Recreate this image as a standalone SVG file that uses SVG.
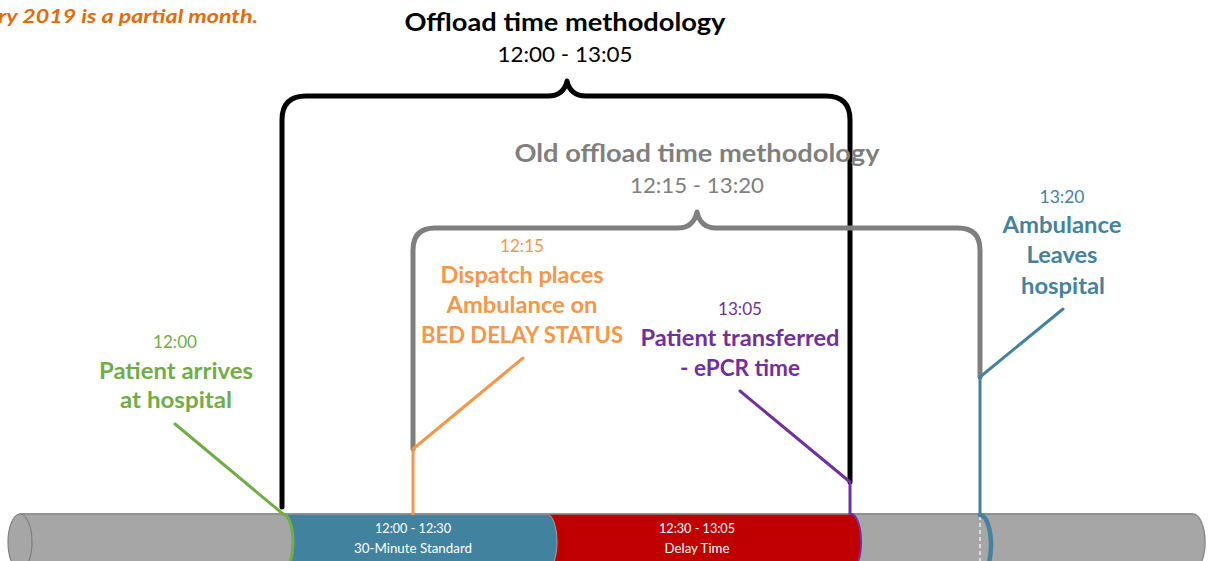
<svg xmlns="http://www.w3.org/2000/svg" width="1209" height="561" viewBox="0 0 1209 561">
<style>
text{font-family:Lato,"Open Sans","Liberation Sans",sans-serif;text-anchor:middle}
.t{font-size:25px;font-weight:bold}
.st{font-size:21px}
.sm{font-size:18px}
.lb{font-size:23px;font-weight:bold}
.bar{font-size:13px;fill:#ffffff}
.green{fill:#70ad47}.orange{fill:#f79646}.purple{fill:#7030a0}.teal{fill:#44829e}.gray{fill:#7f7f7f}
.brace{fill:none;stroke-width:5;stroke-linejoin:round;stroke-linecap:round}
.lead{fill:none;stroke-width:3;stroke-linecap:round;stroke-linejoin:round}
</style>
<rect width="1209" height="561" fill="#ffffff"/>

<g id="note">
<text x="-2" y="23" style="text-anchor:start;font-size:19px;font-weight:bold;font-style:italic;fill:#e36c09" textLength="260" lengthAdjust="spacingAndGlyphs">ry 2019 is a partial month.</text>
</g>

<g id="timeline-bar">
<path d="M20 514 H1193 A12 28 0 0 1 1193 570 H20 Z" fill="#a6a6a6" stroke="#8c8c8c" stroke-width="1.5"/>
<path d="M283 514 H851 A10 28 0 0 1 851 570 H283 Z" fill="#c00000"/>
<path d="M283 514 H547 A10 28 0 0 1 547 570 H283 Z" fill="#41829f" stroke="#a0a0a0" stroke-width="1"/>
<path d="M20 514 H283 A10 28 0 0 1 283 570 H20 Z" fill="#a6a6a6"/>
<line x1="20" y1="514" x2="1193" y2="514" stroke="#8c8c8c" stroke-width="1.5"/>
<ellipse cx="20" cy="542" rx="12" ry="28" fill="#a6a6a6" stroke="#7f7f7f" stroke-width="1.2"/>
<line x1="980" y1="516" x2="980" y2="561" stroke="#ffffff" stroke-width="1.2" stroke-dasharray="4 3"/>
<text class="bar" x="413" y="533" textLength="76" lengthAdjust="spacingAndGlyphs">12:00 - 12:30</text>
<text class="bar" x="413" y="553" textLength="118" lengthAdjust="spacingAndGlyphs">30-Minute Standard</text>
<text class="bar" x="697" y="533" textLength="76" lengthAdjust="spacingAndGlyphs">12:30 - 13:05</text>
<text class="bar" x="697" y="553" textLength="65" lengthAdjust="spacingAndGlyphs">Delay Time</text>
</g>

<g id="offload-methodology">
<path class="brace" stroke="#000000" d="M282 507 V120 Q282 96 306 96 H548 C560 96 565 90 567 81 C569 90 574 96 586 96 H826 Q850 96 850 120 V482"/>
<text class="t" x="565" y="31" textLength="321" lengthAdjust="spacingAndGlyphs" fill="#000000">Offload time methodology</text>
<text class="st" x="565" y="62" textLength="135" lengthAdjust="spacingAndGlyphs" fill="#000000">12:00 - 13:05</text>
</g>

<g id="old-offload-methodology">
<path class="brace" stroke="#7f7f7f" d="M413 449 V250 Q413 228 435 228 H678 C690 228 695 221 697 212 C699 221 704 228 716 228 H958 Q980 228 980 250 V377"/>
<text class="t gray" x="697" y="162" textLength="365" lengthAdjust="spacingAndGlyphs">Old offload time methodology</text>
<text class="st gray" x="697" y="193" textLength="134" lengthAdjust="spacingAndGlyphs">12:15 - 13:20</text>
</g>

<g id="patient-arrives">
<text class="sm green" x="175" y="348" textLength="44" lengthAdjust="spacingAndGlyphs">12:00</text>
<text class="lb green" x="176" y="379" textLength="154" lengthAdjust="spacingAndGlyphs">Patient arrives</text>
<text class="lb green" x="176" y="408" textLength="112" lengthAdjust="spacingAndGlyphs">at hospital</text>
</g>

<g id="bed-delay-status">
<text class="sm orange" x="522" y="252" textLength="44" lengthAdjust="spacingAndGlyphs">12:15</text>
<text class="lb orange" x="522" y="283" textLength="163" lengthAdjust="spacingAndGlyphs">Dispatch places</text>
<text class="lb orange" x="522" y="313" textLength="151" lengthAdjust="spacingAndGlyphs">Ambulance on</text>
<text class="lb orange" x="522" y="343" textLength="202" lengthAdjust="spacingAndGlyphs">BED DELAY STATUS</text>
</g>

<g id="patient-transferred">
<text class="sm purple" x="740" y="315" textLength="44" lengthAdjust="spacingAndGlyphs">13:05</text>
<text class="lb purple" x="740" y="346" textLength="199" lengthAdjust="spacingAndGlyphs">Patient transferred</text>
<text class="lb purple" x="740" y="376" textLength="120" lengthAdjust="spacingAndGlyphs">- ePCR time</text>
</g>

<g id="ambulance-leaves">
<text class="sm teal" x="1062" y="203" textLength="45" lengthAdjust="spacingAndGlyphs">13:20</text>
<text class="lb teal" x="1062" y="233" textLength="119" lengthAdjust="spacingAndGlyphs">Ambulance</text>
<text class="lb teal" x="1062" y="263" textLength="71" lengthAdjust="spacingAndGlyphs">Leaves</text>
<text class="lb teal" x="1063" y="294" textLength="84" lengthAdjust="spacingAndGlyphs">hospital</text>
</g>

<g id="connectors">
<path class="lead" stroke="#70ad47" d="M175 424 L283 514"/>
<path class="lead" stroke="#70ad47" d="M283 514 A10 28 0 0 1 283 570"/>
<path class="lead" stroke="#f79646" d="M523 358 L413 449 V514"/>
<path class="lead" stroke="#7030a0" d="M740 391 L850 482 V514"/>
<path fill="none" stroke="#7030a0" stroke-width="2" d="M851 514 A10 28 0 0 1 851 570"/>
<path class="lead" stroke="#44829e" stroke-width="3.5" d="M1063 309 L980 377 V514"/>
<path fill="none" stroke="#44829e" stroke-width="4.5" stroke-linecap="round" d="M980 515 A11 30 0 0 1 980 575"/>
</g>
</svg>
